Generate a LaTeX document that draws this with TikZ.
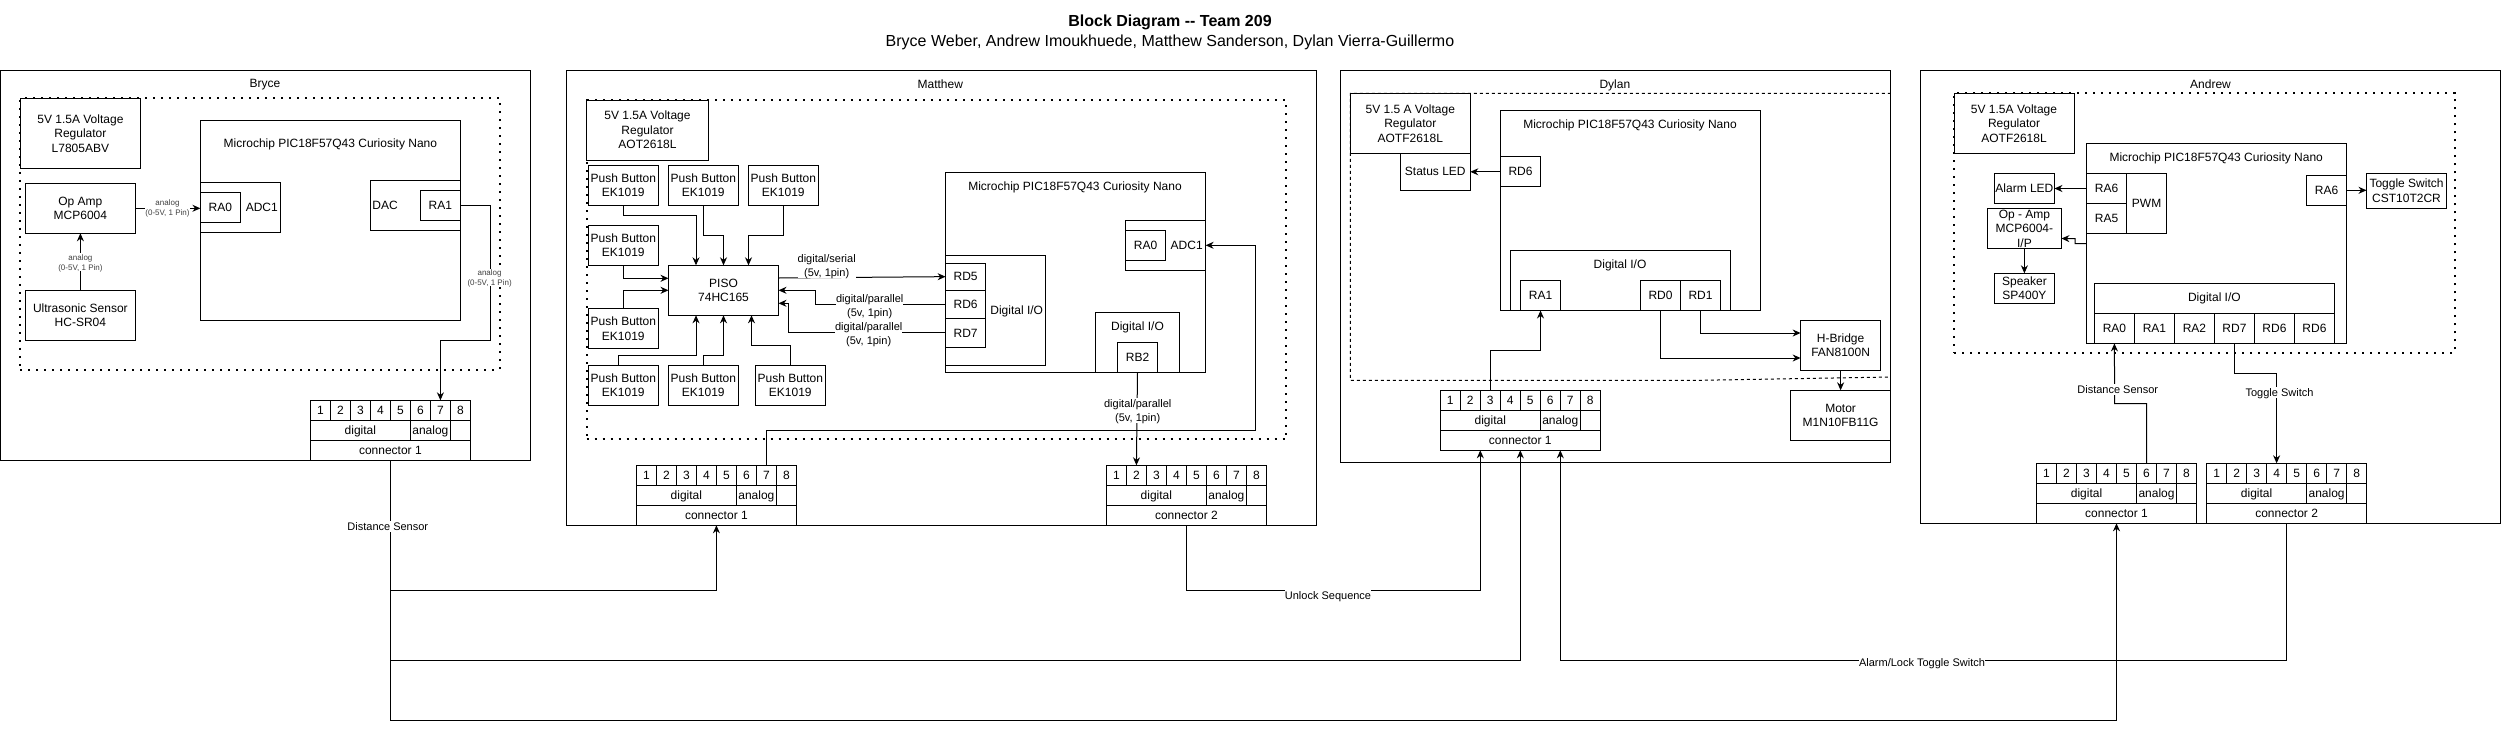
\documentclass[tikz,border=0pt]{standalone}
\usepackage{fontspec}
\setmainfont{Liberation Sans}
\usetikzlibrary{arrows.meta}
\tikzset{
  blk/.style={draw,line width=1pt,anchor=north west,inner sep=0pt,outer sep=0pt,align=center,text depth=0pt,font=\fontsize{12}{14.4}\selectfont},
  sz/.style 2 args={minimum width=#1,minimum height=#2},
  txt/.style={inner sep=0pt,outer sep=0pt,align=center,text depth=0pt,font=\fontsize{12}{14.4}\selectfont},
  elbl/.style={txt,fill=white,inner ysep=1.5pt,font=\fontsize{11}{14}\selectfont},
  slbl/.style={txt,fill=white,inner ysep=1pt,text=black!75,font=\fontsize{8}{10}\selectfont},
  wire/.style={line width=1pt},
  awire/.style={line width=1pt,-{Stealth[length=8pt,width=7pt]}},
  dotbox/.style={line width=2pt,dash pattern=on 2pt off 6pt},
  dashbox/.style={line width=1pt,dash pattern=on 3pt off 3pt}
}
% connector block: name, x, y, number
\newcommand{\connblock}[4]{
  \node[blk,sz={160}{60}] (#1-box) at (#2,#3) {};
  \foreach \p in {1,...,8}
    \node[blk,sz={20}{20}] (#1-\p) at ({#2+(\p-1)*20},#3) {\p};
  \node[blk,sz={100}{20}] (#1-dig) at (#2,#3+20) {digital};
  \node[blk,sz={40}{20}] (#1-ana) at (#2+100,#3+20) {analog};
  \node[blk,sz={160}{20}] (#1) at (#2,#3+40) {connector #4};
}
\begin{document}
\begin{tikzpicture}[x=1pt,y=-1pt]
\useasboundingbox (0,0) rectangle (2501,729);
% title
\node[txt,font=\fontsize{16}{19}\selectfont\bfseries] (title) at (1170,20.7) {Block Diagram -{}- Team 209};
\node[txt,font=\fontsize{16}{19}\selectfont] (names) at (1170,40.7) {Bryce Weber, Andrew Imoukhuede, Matthew Sanderson, Dylan Vierra-Guillermo};

% Bryce
\node[blk,sz={530}{390}] (bryce) at (0.4,70.3) {};
\node[txt] (bryce-t) at (265,83.7) {Bryce};
\node[blk,sz={479.6}{271.2},dotbox] (bryce-dots) at (20.4,98.3) {};
\node[blk,sz={120}{70}] (br-reg) at (20.4,98.3) {5V 1.5A Voltage\\Regulator\\L7805ABV};
\node[blk,sz={110}{50}] (br-amp) at (25.4,183.3) {Op Amp\\MCP6004};
\node[blk,sz={110}{50}] (br-sen) at (25.4,290.3) {Ultrasonic Sensor\\HC-SR04};
\node[blk,sz={260}{200}] (br-mcu) at (200.4,120.3) {};
\node[txt] (br-mcu-t) at (330.4,143) {Microchip PIC18F57Q43 Curiosity Nano};
\node[blk,sz={80}{50}] (br-adc) at (200.4,182.3) {};
\node[blk,sz={40}{30}] (br-ra0) at (200.4,192.3) {RA0};
\node[txt] (br-adc-t) at (261.8,207.3) {ADC1};
\node[blk,sz={90}{50}] (br-dac) at (370.4,180.3) {};
\node[txt] (br-dac-t) at (385,205) {DAC};
\node[blk,sz={40}{30}] (br-ra1) at (420.4,190.3) {RA1};
\connblock{bc}{310.4}{400.3}{1}
\draw[awire] (br-amp.east) -- (br-ra0.west |- br-amp.east);
\draw[awire] (br-sen.north) -- (br-amp.south);
\draw[awire] (br-ra1.east) -- (490.4,205.3) -- (490.4,340.3) -| (bc-7.north);
\node[slbl] (br-l1) at (167.5,207.5) {analog\\(0-5V, 1 Pin)};
\node[slbl] (br-l2) at (80.4,262.3) {analog\\(0-5V, 1 Pin)};
\node[slbl] (br-l3) at (489.6,277.5) {analog\\(0-5V, 1 Pin)};

% Matthew
\node[blk,sz={750}{455}] (matt) at (566.3,70.3) {};
\node[txt] (matt-t) at (940.3,83.7) {Matthew};
\node[blk,sz={699.3}{339.3},dotbox] (matt-dots) at (586.7,100) {};
\node[blk,sz={121.6}{60},fill=white] (m-reg) at (586.7,100) {5V 1.5A Voltage\\Regulator\\AOT2618L};
\foreach \nm/\x/\y in {pb1/588.3/165.3,pb2/668.3/165.3,pb3/748.3/165.3,pb4/588.3/225.3,pb5/588.3/308.7,pb6/588.3/365.3,pb7/668.3/365.3,pb8/755.3/365.3}
  \node[blk,sz={70}{40}] (\nm) at (\x,\y) {Push Button\\EK1019};
\node[blk,sz={110}{50}] (piso) at (668.5,265.3) {PISO\\74HC165};
\node[blk,sz={260}{200}] (m-mcu) at (945.6,172.3) {};
\node[txt] (m-mcu-t) at (1075,185.7) {Microchip PIC18F57Q43 Curiosity Nano};
\node[blk,sz={100}{110}] (m-dio) at (945.6,255) {};
\node[txt] (m-dio-t) at (1016.7,309.7) {Digital I/O};
\node[blk,sz={40}{26.7}] (rd5) at (945.6,263.3) {RD5};
\node[blk,sz={40}{28.6}] (rd6) at (945.6,290) {RD6};
\node[blk,sz={40}{28.7}] (rd7) at (945.6,318.6) {RD7};
\node[blk,sz={80}{50}] (m-adc) at (1125.6,220.3) {};
\node[blk,sz={40}{30}] (m-ra0) at (1125.6,230.3) {RA0};
\node[txt] (m-adc-t) at (1186.7,245.3) {ADC1};
\node[blk,sz={84}{60}] (m-dio2) at (1095.5,312.3) {};
\node[txt] (m-dio2-t) at (1137.5,325.7) {Digital I/O};
\node[blk,sz={40}{30}] (rb2) at (1117.5,342.3) {RB2};
\connblock{mc1}{636.4}{465.3}{1}
\connblock{mc2}{1106.4}{465.3}{2}
\draw[awire] (pb1.south) -- (623.3,215.3) -| ([xshift=27.5pt]piso.north west);
\draw[awire] (pb2.south) -- (703.3,235.3) -| (piso.north);
\draw[awire] (pb3.south) -- (783.3,235.3) -| ([xshift=80pt]piso.north west);
\draw[awire] (pb4.south) |- ([yshift=-13pt]piso.north west);
\draw[awire] (pb5.north) |- (piso.west);
\draw[awire] ([xshift=30pt]pb6.north west) -- (618.3,355.3) -| ([xshift=27.5pt]piso.south west);
\draw[awire] (pb7.north) -- (703.3,355.3) -| (piso.south);
\draw[awire] (pb8.north) -- (790.3,345.3) -| ([xshift=83pt]piso.south west);
\draw[awire] ([yshift=-12.7pt]piso.north east) -- (rd5.west);
\draw[awire] (rd6.west) -| (815.7,290.3) -- (piso.east);
\draw[awire] (rd7.west) -| (788.7,303.3) -- ([yshift=-38pt]piso.north east);
\draw[awire] (rb2.south) -- (mc2-2.north);
\draw[awire] (mc1-7.north) |- (1255.7,430.3) |- (m-adc.east);
\node[elbl] (m-l1) at (826.7,265.3) {digital/serial\\(5v, 1pin)};
\node[elbl] (m-l2) at (869.7,305.7) {digital/parallel\\(5v, 1pin)};
\node[elbl] (m-l3) at (868.7,333.3) {digital/parallel\\(5v, 1pin)};
\node[elbl] (m-l4) at (1137.7,410.5) {digital/parallel\\(5v, 1pin)};

% Dylan
\node[blk,sz={550.5}{392}] (dylan) at (1340.3,70.3) {};
\node[txt] (dylan-t) at (1614.9,83.7) {Dylan};
\draw[dashbox] (1890.8,93.3) -- (1350.3,93.3) -- (1350.3,380.3) -- (1700,380.3) -- (1890.8,377);
\node[blk,sz={120}{60},fill=white] (d-reg) at (1350.3,93.3) {5V 1.5 A Voltage\\Regulator\\AOTF2618L};
\node[blk,sz={70}{37}] (d-led) at (1400.3,153.3) {Status LED};
\node[blk,sz={260}{200}] (d-mcu) at (1500.5,110.5) {};
\node[txt] (d-mcu-t) at (1630,123.7) {Microchip PIC18F57Q43 Curiosity Nano};
\node[blk,sz={40}{30}] (d-rd6) at (1500.5,156.8) {RD6};
\node[blk,sz={220}{60}] (d-dio) at (1510.5,250.5) {};
\node[txt] (d-dio-t) at (1620,263.7) {Digital I/O};
\node[blk,sz={40}{30}] (d-ra1) at (1520.5,280.5) {RA1};
\node[blk,sz={40}{30}] (d-rd0) at (1640.5,280.5) {RD0};
\node[blk,sz={40}{30}] (d-rd1) at (1680.5,280.5) {RD1};
\node[blk,sz={80}{50}] (hb) at (1800.6,320.3) {H-Bridge\\FAN8100N};
\node[blk,sz={100}{50}] (motor) at (1790.6,390.3) {Motor\\M1N10FB11G};
\connblock{dc}{1440.3}{390.3}{1}
\draw[awire] (d-rd6.west) -- (d-led.east |- d-rd6.west);
\draw[awire] (d-rd1.south) |- ([yshift=-12.7pt]hb.north west);
\draw[awire] (d-rd0.south) |- ([yshift=-37.7pt]hb.north west);
\draw[awire] (hb.south) -- (hb.south |- motor.north);
\draw[awire] (dc-3.north) -- (1490.3,350.3) -| (d-ra1.south);

% Andrew
\node[blk,sz={580}{453}] (andrew) at (1920.3,70.3) {};
\node[txt] (andrew-t) at (2210.5,83.7) {Andrew};
\node[blk,sz={500.6}{259.7},dotbox] (andrew-dots) at (1954,93) {};
\node[blk,sz={120}{60},fill=white] (a-reg) at (1954,93.3) {5V 1.5A Voltage\\Regulator\\AOTF2618L};
\node[blk,sz={260}{200}] (a-mcu) at (2086.6,143.5) {};
\node[txt] (a-mcu-t) at (2216.2,156.7) {Microchip PIC18F57Q43 Curiosity Nano};
\node[blk,sz={40}{30}] (a-ra6) at (2086.6,173.5) {RA6};
\node[blk,sz={40}{30}] (a-ra5) at (2086.6,203.5) {RA5};
\node[blk,sz={40}{60}] (a-pwm) at (2126.6,173.5) {PWM};
\node[blk,sz={60}{30}] (a-led) at (1994.4,173.5) {Alarm LED};
\node[blk,sz={74}{40}] (a-amp) at (1987.4,208.5) {Op - Amp\\MCP6004-\\I/P};
\node[blk,sz={60}{30}] (a-spk) at (1994.4,273.3) {Speaker\\SP400Y};
\node[blk,sz={40}{30}] (a-ra6b) at (2306.5,175.3) {RA6};
\node[blk,sz={80}{35}] (a-tog) at (2366.5,173.3) {Toggle Switch\\CST10T2CR};
\node[blk,sz={240}{60}] (a-dio) at (2094.4,283.4) {};
\node[txt] (a-dio-t) at (2214.4,296.7) {Digital I/O};
\foreach \nm/\x/\lb in {a0/2094.4/RA0,a1/2134.4/RA1,a2/2174.4/RA2,d7/2214.4/RD7,d6/2254.4/RD6,d6b/2294.4/RD6}
  \node[blk,sz={40}{30}] (a-\nm) at (\x,313.4) {\lb};
\connblock{ac1}{2036.5}{463.3}{1}
\connblock{ac2}{2206.6}{463.3}{2}
\draw[awire] (a-ra6.west) -- (a-led.east |- a-ra6.west);
\draw[awire] ([yshift=-10pt]a-ra5.south west) -| (2075.2,238.7) -- ([yshift=-30pt]a-amp.north east);
\draw[awire] (a-amp.south) -- (a-spk.north);
\draw[awire] (a-ra6b.east) -- (a-tog.west |- a-ra6b.east);
\draw[awire] (ac1-6.north) |- (2114.6,403.7) -- ([xshift=20pt]a-a0.south west);
\draw[awire] (a-d7.south) |- (2276.6,373.3) -- (ac2-4.north);
\node[elbl] (a-l1) at (2117.7,389.3) {Distance Sensor};
\node[elbl] (a-l2) at (2279.5,392.3) {Toggle Switch};

% wires between the boards
\coordinate (bus1) at (0,590.3);
\coordinate (bus2) at (0,660.3);
\coordinate (bus3) at (0,720.3);
\draw[wire] (bc.south) -- (bc.south |- bus3);
\draw[awire] (bc.south |- bus1) -| (mc1.south);
\draw[awire] (bc.south |- bus2) -| (dc.south);
\draw[awire] (bc.south |- bus3) -| (ac1.south);
\draw[awire] (mc2.south) |- ([xshift=-40pt]dc.south |- bus1) -- ([xshift=-40pt]dc.south);
\draw[awire] (ac2.south) |- ([xshift=40pt]dc.south |- bus2) -- ([xshift=40pt]dc.south);
\node[elbl] (l-dist) at (387.8,526.3) {Distance Sensor};
\node[elbl] (l-unl) at (1328,595.3) {Unlock Sequence};
\node[elbl] (l-alm) at (1922,662.3) {Alarm/Lock Toggle Switch};
\end{tikzpicture}
\end{document}
